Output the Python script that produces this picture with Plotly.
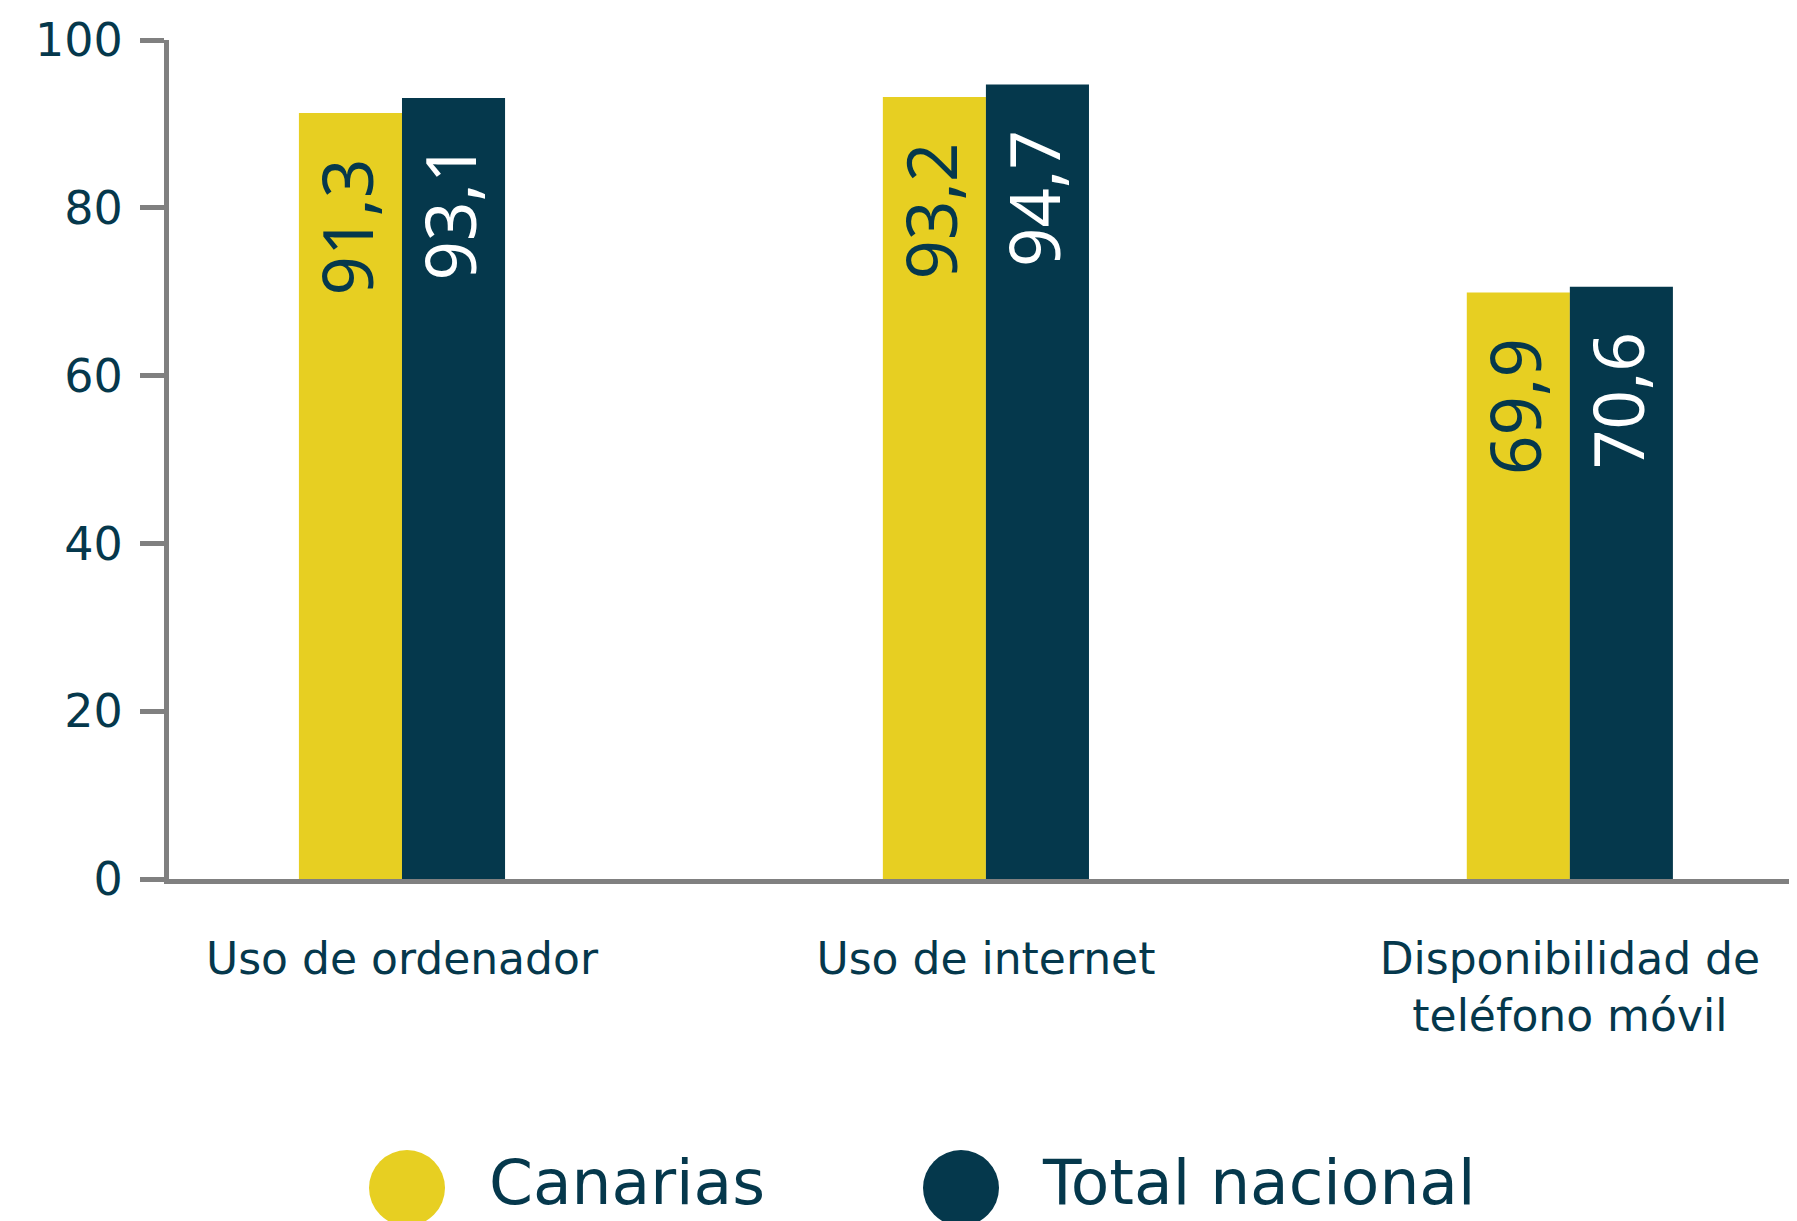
import plotly.graph_objects as go

categories = ["Uso de ordenador", "Uso de internet", "Disponibilidad de<br>teléfono móvil"]
series_names = ["Canarias", "Total nacional"]
canarias = [91.3, 93.2, 69.9]
total_nacional = [93.1, 94.7, 70.6]
y_ticks = [0, 20, 40, 60, 80, 100]

YELLOW = "#E7CF22"
NAVY = "#05384C"
GRAY = "#808080"
FONT = "DejaVu Sans"
LABEL_FONT = "Noto Sans"

OFF = 8  # default page body margin
W, H = 1797 - OFF, 1221 - OFF
ML, MR, MT, MB = 169 - OFF, 0, 40 - OFF, 342
PW, PH = W - ML - MR, H - MT - MB


def fmt(v):
    return f"{v:.1f}".replace(".", ",")


def px_x(px):
    return (px - OFF - ML) / PW


def px_y(py):
    return (OFF + H - MB - py) / PH


fig = go.Figure()
series = [(series_names[0], canarias, YELLOW, NAVY, -56),
          (series_names[1], total_nacional, NAVY, "white", 47)]
for name, vals, col, tcol, xs in series:
    fig.add_trace(go.Bar(x=categories, y=vals, name=name, marker_color=col,
                         marker_line_width=0, showlegend=False))
    for c, v in zip(categories, vals):
        fig.add_annotation(x=c, y=v, xref="x", yref="y", text=fmt(v), textangle=-90,
                           showarrow=False, xshift=xs, yshift=-184, yanchor="bottom",
                           xanchor="center", font=dict(family=LABEL_FONT, size=69, color=tcol))

# legend drawn manually (large circular markers)
legend_items = [(series_names[0], YELLOW, 369, 491), (series_names[1], NAVY, 923, 1044)]
for name, col, cx0, tx in legend_items:
    fig.add_shape(type="circle", xref="paper", yref="paper",
                  x0=px_x(cx0), x1=px_x(cx0 + 76), y0=px_y(1150), y1=px_y(1226),
                  fillcolor=col, line_width=0)
    fig.add_annotation(x=px_x(tx - 4), y=px_y(1182), xref="paper", yref="paper",
                       text=name, showarrow=False, xanchor="left", yanchor="middle",
                       font=dict(family=FONT, size=63, color=NAVY))

fig.update_layout(
    width=W, height=H,
    margin=dict(l=ML, r=MR, t=MT, b=MB, pad=0),
    paper_bgcolor="white", plot_bgcolor="white",
    barmode="group", bargap=0.647, bargroupgap=0,
    font=dict(family=FONT, color=NAVY),
    xaxis=dict(type="category", range=[-0.399, 2.389], showline=True, linewidth=5,
               linecolor=GRAY, ticks="", showgrid=False, zeroline=False,
               tickfont=dict(family=FONT, size=44, color=NAVY), ticklabelstandoff=37),
    yaxis=dict(range=[0, 100], tickvals=y_ticks, showline=True, linewidth=5,
               linecolor=GRAY, ticks="outside", ticklen=24, tickwidth=5, tickcolor=GRAY,
               showgrid=False, zeroline=False,
               tickfont=dict(family=FONT, size=46, color=NAVY), ticklabelstandoff=8),
)

fig.write_html("out.html")
